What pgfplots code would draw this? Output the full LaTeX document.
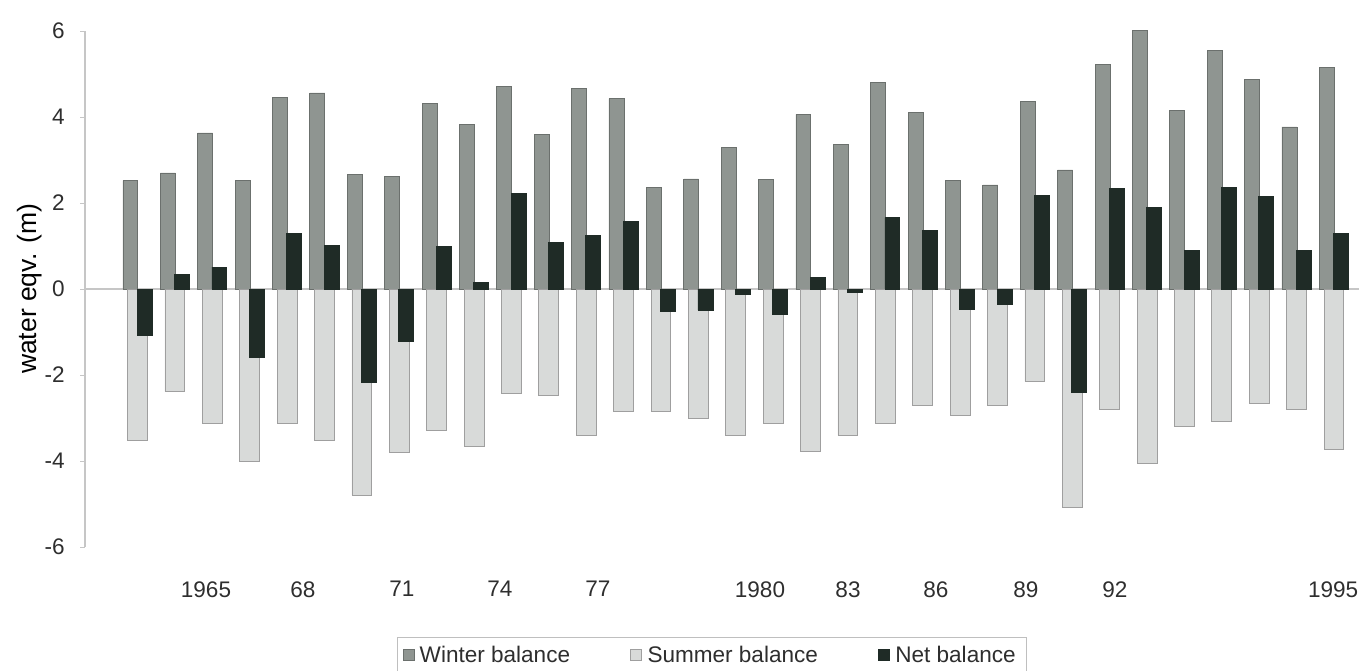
\documentclass[border=0pt]{standalone}
\usepackage{pgfplots}
\usepackage{pgfplotstable}
\pgfplotsset{compat=1.18}
\usepackage{fontspec}
\setmainfont{Liberation Sans}
\newlength\px \setlength\px{0.1325mm}
\definecolor{winter}{HTML}{8F9591}
\definecolor{summer}{HTML}{D8DAD9}
\definecolor{net}{HTML}{1F2B26}
\definecolor{txt}{HTML}{2E2E2E}
\pgfplotstableread{
year W S N
1963 2.52 -3.53 -1.07
1964 2.70 -2.38 0.33
1965 3.63 -3.12 0.51
1966 2.52 -4.00 -1.58
1967 4.45 -3.12 1.30
1968 4.56 -3.53 1.01
1969 2.66 -4.79 -2.17
1970 2.61 -3.81 -1.21
1971 4.32 -3.28 0.99
1972 3.82 -3.65 0.15
1973 4.72 -2.42 2.22
1974 3.60 -2.48 1.08
1975 4.67 -3.40 1.25
1976 4.43 -2.84 1.58
1977 2.37 -2.84 -0.53
1978 2.56 -3.00 -0.49
1979 3.30 -3.40 -0.13
1980 2.55 -3.12 -0.60
1981 4.06 -3.77 0.27
1982 3.37 -3.40 -0.07
1983 4.81 -3.12 1.66
1984 4.11 -2.70 1.37
1985 2.52 -2.93 -0.47
1986 2.42 -2.70 -0.36
1987 4.37 -2.14 2.17
1988 2.77 -5.09 -2.40
1989 5.23 -2.81 2.34
1990 6.02 -4.05 1.90
1991 4.15 -3.19 0.90
1992 5.54 -3.07 2.36
1993 4.88 -2.65 2.15
1994 3.77 -2.81 0.90
1995 5.16 -3.74 1.30
}\mb
\begin{document}
\begin{tikzpicture}
\begin{axis}[
  at={(85\px,124\px)}, anchor=south west,
  scale only axis, width=1274\px, height=516\px,
  xmin=1961.596, xmax=1995.67, ymin=-6, ymax=6,
  ybar,
  legend image code/.code={\draw[#1] (0pt,-5\px) rectangle (11\px,6\px);},
  axis y line*=left, axis x line*=bottom,
  x axis line style={draw=none},
  y axis line style={draw=gray!45},
  ytick={-6,-4,...,6},
  ytick style={draw=gray!45},
  tick align=outside,
  major tick length=5\px,
  xtick={1964.832,1967.426,1970.074,1972.695,1975.316,1979.649,1982.003,1984.356,1986.763,1989.143,1994.98},
  xticklabels={1965,68,71,74,77,1980,83,86,89,92,1995},
  xtick style={draw=none},
  xticklabel style={yshift=-20\px},
  yticklabel style={xshift=-6\px},
  /pgf/number format/assume math mode=true,
  tick label style={font=\fontsize{8.5}{10}\selectfont, text=txt},
  extra y ticks={0}, extra y tick labels={},
  extra y tick style={grid=major, major grid style={draw=gray!45, line width=0.5pt}, major tick length=0pt},
  ylabel={water eqv. (m)},
  ylabel style={font=\fontsize{8.5}{10}\selectfont, text=txt},
  every axis y label/.style={at={(rel axis cs:0,0.5)}, xshift=-55\px, rotate=90, anchor=center},
  legend columns=3,
  legend style={at={(0.492,-0.211)}, anchor=center, draw=gray!50, line width=0.4pt,
    font=\fontsize{8.5}{10}\selectfont, text=txt, inner xsep=2pt, inner ysep=1pt,
    /tikz/every even column/.append style={column sep=55\px}},
  legend cell align=left,
  clip=false,
]
\addplot[fill=winter, draw=winter!75!black, line width=0.3pt, bar width=0.40, bar shift=-0.19]
  table[x=year, y=W] {\mb};
\addlegendentry{Winter balance}
\addplot[fill=summer, draw=gray!75, line width=0.3pt, bar width=0.53, bar shift=0]
  table[x=year, y=S] {\mb};
\addlegendentry{Summer balance}
\addplot[fill=net, draw=net, line width=0.3pt, bar width=0.40, bar shift=0.19]
  table[x=year, y=N] {\mb};
\addlegendentry{Net balance}
\end{axis}
\pgfresetboundingbox
\path[use as bounding box] (0,0) rectangle (1359\px,671\px);
\end{tikzpicture}
\end{document}
